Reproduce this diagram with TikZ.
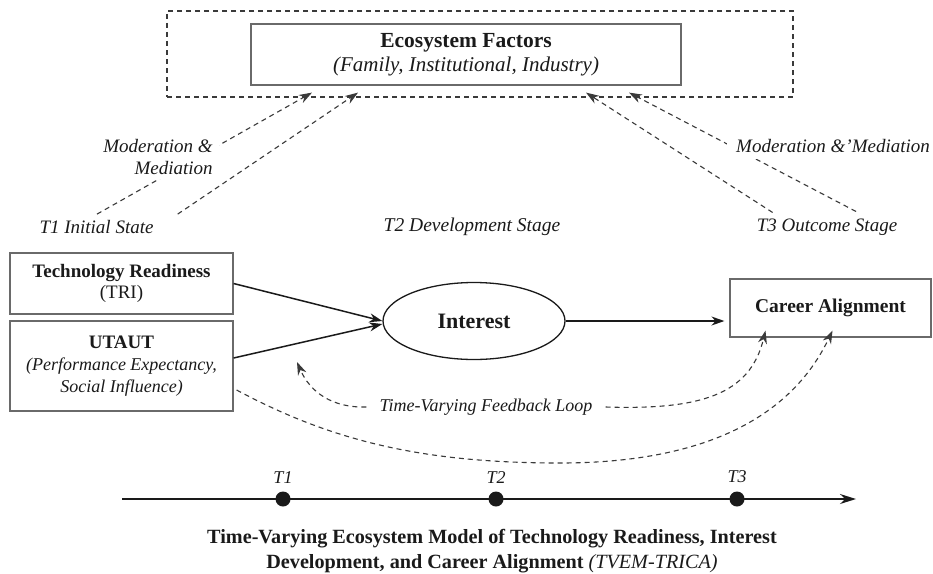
\documentclass[tikz,border=0pt]{standalone}
\usepackage{fontspec}
\setmainfont{Liberation Serif}
\usetikzlibrary{arrows.meta,shapes.geometric,calc}

\definecolor{ink}{HTML}{1A1A1A}
\definecolor{boxline}{HTML}{6A6A6A}
\definecolor{dashc}{HTML}{3A3A3A}

\tikzset{
  boxed/.style={draw=boxline, line width=1.2pt, fill=white, inner sep=0pt,
                align=center, text=ink},
  solidarrow/.style={draw=ink, line width=1.5pt,
                     -{Stealth[length=13pt,width=9pt]}},
  dasharrow/.style={draw=dashc, line width=1.1pt, dash pattern=on 5pt off 4pt,
                    -{Stealth[length=13pt,width=9pt]}},
  lab/.style={font=\fontsize{19}{23}\selectfont\itshape, text=ink, inner sep=2pt},
  cover/.style={fill=white, inner sep=7pt},
  tdot/.style={circle, fill=ink, minimum size=15pt, inner sep=0pt},
}

\begin{document}
\begin{tikzpicture}[x=1pt,y=-1pt]
\useasboundingbox[fill=white] (0,0) rectangle (933,573);

% ---------- ecosystem block ----------
\node[draw=dashc, line width=1.1pt, dash pattern=on 5pt off 4pt,
      minimum width=626pt, minimum height=86pt, inner sep=0pt] (frame) at (480,54) {};
\node[boxed, minimum width=430pt, minimum height=61pt,
      font=\fontsize{21}{24}\selectfont] (eco) at (466,54.5)
  {\fontsize{21.5}{24}\selectfont\bfseries Ecosystem Factors\\
   \itshape (Family, Institutional, Industry)};

% ---------- stage labels ----------
\node[lab] (t1) at (96.5,227) {T1 Initial State};
\node[lab, font=\fontsize{19.5}{23}\selectfont\itshape] (t2) at (472,227) {T2 Development Stage};
\node[lab] (t3) at (827,227) {T3 Outcome Stage};

% end points of the moderation arrows just under the ecosystem box
\coordinate (e1) at ($(eco.south)+(-154,7)$);
\coordinate (e2) at ($(eco.south)+(-108,7)$);
\coordinate (e3) at ($(eco.south)+(120,7)$);
\coordinate (e4) at ($(eco.south)+(163,7)$);
% start points above the stage labels
\coordinate (s1) at ($(t1.north)+(0.5,-4)$);
\coordinate (s2) at ($(t1.north east)+(22,-4)$);
\coordinate (s3) at ($(t3.north west)+(18,-4)$);
\coordinate (s4) at ($(t3.north)+(29,-5)$);

\draw[dasharrow] (s1) -- (e1);
\draw[dasharrow] (s2) -- (e2);
\draw[dasharrow] (s3) -- (e3);
\draw[dasharrow] (s4) -- (e4);

% labels laid over the dashed lines
\node[lab, cover, align=right, inner xsep=6pt, inner ysep=5pt,
      font=\fontsize{19}{21.5}\selectfont\itshape] (mm1) at (158,157)
  {Moderation \&\\Mediation};
\node[lab, cover, inner xsep=9pt, inner ysep=6pt] (mm2) at (833,146)
  {Moderation \&’Mediation};

% ---------- core constructs ----------
\node[boxed, minimum width=223pt, minimum height=61pt,
      font=\fontsize{19}{20.5}\selectfont] (tri) at (121.5,283.5)
  {\bfseries Technology Readiness\\ (TRI)};
\node[boxed, minimum width=223pt, minimum height=90pt,
      font=\fontsize{18}{22}\selectfont] (utaut) at (121.5,366)
  {\fontsize{19}{22}\selectfont\bfseries UTAUT\\
   \itshape (Performance Expectancy,\\
   \itshape Social Influence)};
\node[ellipse, draw=ink, line width=1.3pt, minimum width=182pt, minimum height=77pt,
      inner sep=0pt, text=ink] (int) at (474,321)
  {\fontsize{22}{24}\selectfont\bfseries Interest};
\node[boxed, minimum width=201pt, minimum height=58pt] (career) at (830.5,308)
  {\fontsize{19.5}{22}\selectfont\bfseries Career Alignment};

\draw[solidarrow] (tri.east) -- (int.west);
\draw[solidarrow] ([yshift=8pt]utaut.east) -- ([yshift=-3pt]int.west);
\draw[solidarrow] (int.east) -- ([xshift=-5pt]career.west |- int.east);

% ---------- feedback loops ----------
\node[lab, font=\fontsize{18}{22}\selectfont\itshape, inner xsep=13pt] (fb) at (486,407)
  {Time-Varying Feedback Loop};
\coordinate (fbl) at (297,362);
\coordinate (fbr) at ($(career.south)+(-65,-7)$);
\coordinate (lng) at ($(career.south)+(2,-7)$);

\draw[dasharrow] (fb.west) .. controls (332,408) and (310,392) .. (fbl);
\draw[dasharrow] (fb.east) .. controls (700,410) and (750,395) .. (fbr);
\draw[dasharrow] ([yshift=-24pt,xshift=3pt]utaut.east)
  .. controls (330,440) and (420,463) .. (560,463)
  .. controls (700,463) and (790,420) .. (lng);

% ---------- time axis ----------
\coordinate (ax0) at (122,499);
\coordinate (ax1) at (856,499);
\draw[draw=ink, line width=1.5pt, -{Stealth[length=16pt,width=10pt]}] (ax0) -- (ax1);
\node[tdot] (d1) at (283,499) {};
\node[tdot] (d2) at (496,499) {};
\node[tdot] (d3) at (737,499) {};
\node[lab, anchor=south, font=\fontsize{18}{20}\selectfont\itshape] at ([yshift=6pt]d1.north) {T1};
\node[lab, anchor=south, font=\fontsize{18}{20}\selectfont\itshape] at ([yshift=6pt]d2.north) {T2};
\node[lab, anchor=south, font=\fontsize{18}{20}\selectfont\itshape] at ([yshift=6pt]d3.north) {T3};

% ---------- caption ----------
\node[align=center, text=ink, font=\fontsize{20.2}{25}\selectfont\bfseries] (cap) at (492,551)
  {Time-Varying Ecosystem Model of Technology Readiness, Interest\\
   Development, and Career Alignment {\mdseries\itshape (TVEM-TRICA)}};
\end{tikzpicture}
\end{document}
